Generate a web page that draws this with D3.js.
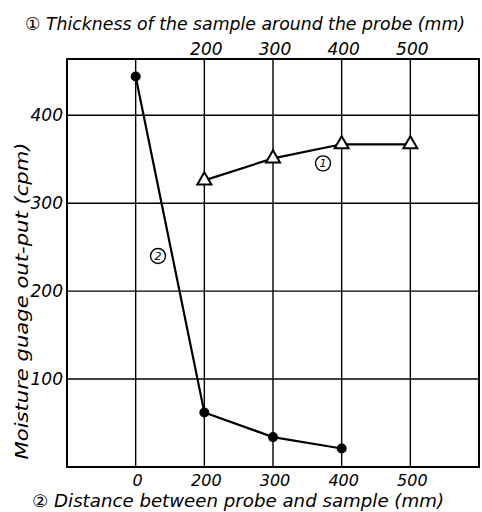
<!DOCTYPE html>
<html>
<head>
<meta charset="utf-8">
<script src="https://cdn.jsdelivr.net/npm/d3@7/dist/d3.min.js"></script>
<style>
  html, body { margin: 0; padding: 0; background: #fff; }
  svg { display: block; }
  text { font-family: "DejaVu Sans", sans-serif; font-style: italic; fill: #000; }
</style>
</head>
<body>
<svg id="chart" width="482" height="512"></svg>
<script>
// ---- data ----
const topTicks = [200, 300, 400, 500];
const bottomTicks = [0, 200, 300, 400, 500];
const yTicks = [100, 200, 300, 400];
const thickness = [200, 300, 400, 500];          // ① sample thickness (mm)
const thicknessOutput = [326, 351, 367, 367];    // cpm
const distance = [0, 200, 300, 400];             // ② distance (mm)
const distanceOutput = [444, 62, 34, 21];        // cpm
const topTitle = "① Thickness of the sample around the probe (mm)";
const bottomTitle = "② Distance between probe and sample (mm)";
const yTitle = "Moisture guage out-put (cpm)";
const seriesLabels = ["1", "2"];

// ---- layout ----
const L = 67, R = 479, T = 59, B = 467;
const svg = d3.select("#chart");

const xTop = d3.scaleLinear().domain([0, 600]).range([L, R]);
const xBottom = d3.scaleLinear()
  .domain([-100, 0, 200, 600])
  .range([xTop(0), xTop(100), xTop(200), xTop(600)]);
const y = d3.scaleLinear().domain([0, 464]).range([B, T]);

// grid
const gridX = [100, 200, 300, 400, 500];
svg.append("g").selectAll("line").data(gridX).join("line")
  .attr("x1", d => xTop(d)).attr("x2", d => xTop(d))
  .attr("y1", T).attr("y2", B)
  .attr("stroke", "#000").attr("stroke-width", 1.4);
svg.append("g").selectAll("line").data(yTicks).join("line")
  .attr("x1", L).attr("x2", R)
  .attr("y1", d => y(d)).attr("y2", d => y(d))
  .attr("stroke", "#000").attr("stroke-width", 1.4);

// frame
svg.append("rect").attr("x", L).attr("y", T).attr("width", R - L).attr("height", B - T)
  .attr("fill", "none").attr("stroke", "#000").attr("stroke-width", 2);

// tick labels
svg.append("g").selectAll("text").data(yTicks).join("text")
  .attr("x", L - 4).attr("y", d => y(d)).attr("dy", "0.35em")
  .attr("text-anchor", "end").attr("font-size", 17).text(d => d);

svg.append("g").selectAll("text").data(topTicks).join("text")
  .attr("x", d => xTop(d) + 2).attr("y", 55)
  .attr("text-anchor", "middle").attr("font-size", 17).text(d => d);

svg.append("g").selectAll("text").data(bottomTicks).join("text")
  .attr("x", d => xBottom(d) + 2).attr("y", 486)
  .attr("text-anchor", "middle").attr("font-size", 16).text(d => d);

// titles
svg.append("text").attr("x", 25).attr("y", 30).attr("font-size", 18)
  .attr("textLength", 440).attr("lengthAdjust", "spacingAndGlyphs").text(topTitle);
svg.append("text").attr("x", 32).attr("y", 507).attr("font-size", 17)
  .attr("textLength", 412).attr("lengthAdjust", "spacingAndGlyphs").text(bottomTitle);
svg.append("text").attr("transform", "translate(28,301) rotate(-90)")
  .attr("text-anchor", "middle").attr("font-size", 18)
  .attr("textLength", 317).attr("lengthAdjust", "spacingAndGlyphs").text(yTitle);

// series ② (filled circles, bottom axis)
const s2 = distance.map((d, i) => [xBottom(d), y(distanceOutput[i])]);
svg.append("path").attr("d", d3.line()(s2))
  .attr("fill", "none").attr("stroke", "#000").attr("stroke-width", 2.2);
svg.append("g").selectAll("circle").data(s2).join("circle")
  .attr("cx", d => d[0]).attr("cy", d => d[1]).attr("r", 5).attr("fill", "#000");

// series ① (open triangles, top axis)
const s1 = thickness.map((d, i) => [xTop(d), y(thicknessOutput[i])]);
svg.append("path").attr("d", d3.line()(s1))
  .attr("fill", "none").attr("stroke", "#000").attr("stroke-width", 2.2);
const tri = d3.symbol().type(d3.symbolTriangle).size(85);
svg.append("g").selectAll("path").data(s1).join("path")
  .attr("transform", d => `translate(${d[0]},${d[1]})`)
  .attr("d", tri).attr("fill", "#fff").attr("stroke", "#000").attr("stroke-width", 2);

// circled series labels
const labelPos = [
  [xTop(300) + 50, y(thicknessOutput[1]) + 5],
  [158, 256]
];
const lg = svg.append("g").selectAll("g").data(seriesLabels).join("g")
  .attr("transform", (d, i) => `translate(${labelPos[i][0]},${labelPos[i][1]})`);
lg.append("circle").attr("r", 7.5).attr("fill", "#fff").attr("stroke", "#000").attr("stroke-width", 1.4);
lg.append("text").attr("text-anchor", "middle").attr("dy", "0.36em")
  .attr("font-size", 11).text(d => d);
</script>
</body>
</html>
